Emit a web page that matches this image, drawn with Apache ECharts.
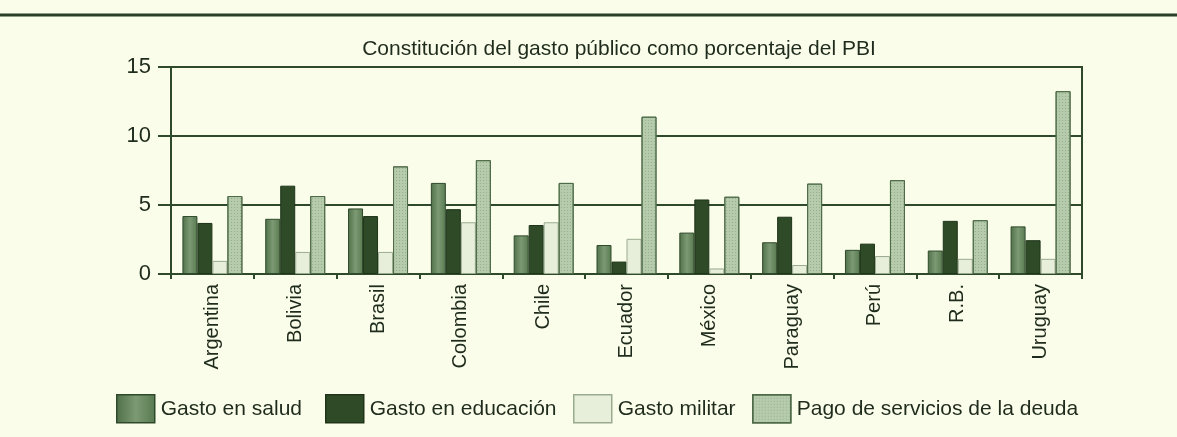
<!DOCTYPE html>
<html><head><meta charset="utf-8">
<script src="https://cdn.jsdelivr.net/npm/echarts@6/dist/echarts.min.js"></script>
<style>html,body{margin:0;padding:0;background:#fafde9;}#c{width:1177px;height:437px;}</style>
</head><body><div id="c"></div>
<script>
const categories = ['Argentina','Bolivia','Brasil','Colombia','Chile','Ecuador','México','Paraguay','Perú','R.B.','Uruguay'];
const salud     = [4.2, 4.0, 4.75, 6.6, 2.8, 2.1, 3.0, 2.3, 1.75, 1.7, 3.45];
const educacion = [3.7, 6.4, 4.2, 4.7, 3.55, 0.9, 5.4, 4.15, 2.2, 3.85, 2.45];
const militar   = [0.95, 1.6, 1.6, 3.75, 3.75, 2.55, 0.4, 0.65, 1.3, 1.1, 1.1];
const deuda     = [5.65, 5.65, 7.8, 8.25, 6.6, 11.4, 5.6, 6.55, 6.8, 3.9, 13.25];
const seriesNames = ['Gasto en salud','Gasto en educación','Gasto militar','Pago de servicios de la deuda'];
const yTicks = [0,5,10,15];

const FONT = "'Liberation Sans',Arial,sans-serif";
const dark = '#2f4a2b';
const txt = '#1f2b1c';
const colors = [
  {type:'linear',x:0,y:0,x2:1,y2:0,colorStops:[{offset:0,color:'#4f7048'},{offset:0.5,color:'#7c9a74'},{offset:1,color:'#587a50'}]},
  '#2e4a26',
  '#e7efda',
  '#b6cbac'
];
const borders = [dark, '#1f3419', '#9aab90', '#4f6b48'];
const data = [salud, educacion, militar, deuda];
const legendLeft = [111, 320, 568, 747];
const chart = echarts.init(document.getElementById('c'));
chart.setOption({
  backgroundColor:'#fafde9',
  animation:false,
  title:{text:'Constitución del gasto público como porcentaje del PBI',left:614,top:34,textAlign:'center',
    textStyle:{fontFamily:FONT,fontSize:21,fontWeight:'normal',color:txt}},
  legend:seriesNames.map((n,i)=>({
    top:389,left:legendLeft[i],itemWidth:38,itemHeight:28,itemGap:0,icon:'rect',
    textStyle:{fontFamily:FONT,fontSize:21,color:txt,padding:[0,0,0,1]},
    data:[{name:n,itemStyle:{borderColor:borders[i],borderWidth:1.5}}]
  })),
  grid:{left:171,right:95,top:67,bottom:163,show:true,borderColor:dark,borderWidth:2,backgroundColor:'transparent'},
  xAxis:{type:'category',data:categories,
    axisLine:{lineStyle:{color:dark,width:2}},
    axisTick:{show:true,length:5,lineStyle:{color:dark,width:2}},
    axisLabel:{rotate:90,fontFamily:FONT,fontSize:20,color:txt,margin:10}},
  yAxis:{type:'value',min:0,max:15,interval:5,
    axisLine:{show:true,lineStyle:{color:dark,width:2}},
    axisTick:{show:true,length:13,lineStyle:{color:dark,width:2}},
    axisLabel:{fontFamily:FONT,fontSize:22,color:txt,margin:20,
      formatter:v=>yTicks.includes(v)?String(v):''},
    splitLine:{lineStyle:{color:dark,width:2}}},
  graphic:[{type:'line',shape:{x1:0,y1:15,x2:1177,y2:15},style:{stroke:'#2a3f27',lineWidth:3}}],
  series:seriesNames.map((n,i)=>{
    const s = {name:n,type:'bar',data:data[i],barWidth:15,barGap:'0%',
      itemStyle:{color:colors[i],borderColor:borders[i],borderWidth:1}};
    if(i===3){ s.itemStyle.decal = {symbol:'rect',symbolSize:1,dashArrayX:[1,2],dashArrayY:[1,2],color:'rgba(90,120,80,0.35)'}; }
    return s;
  })
});
</script></body></html>
